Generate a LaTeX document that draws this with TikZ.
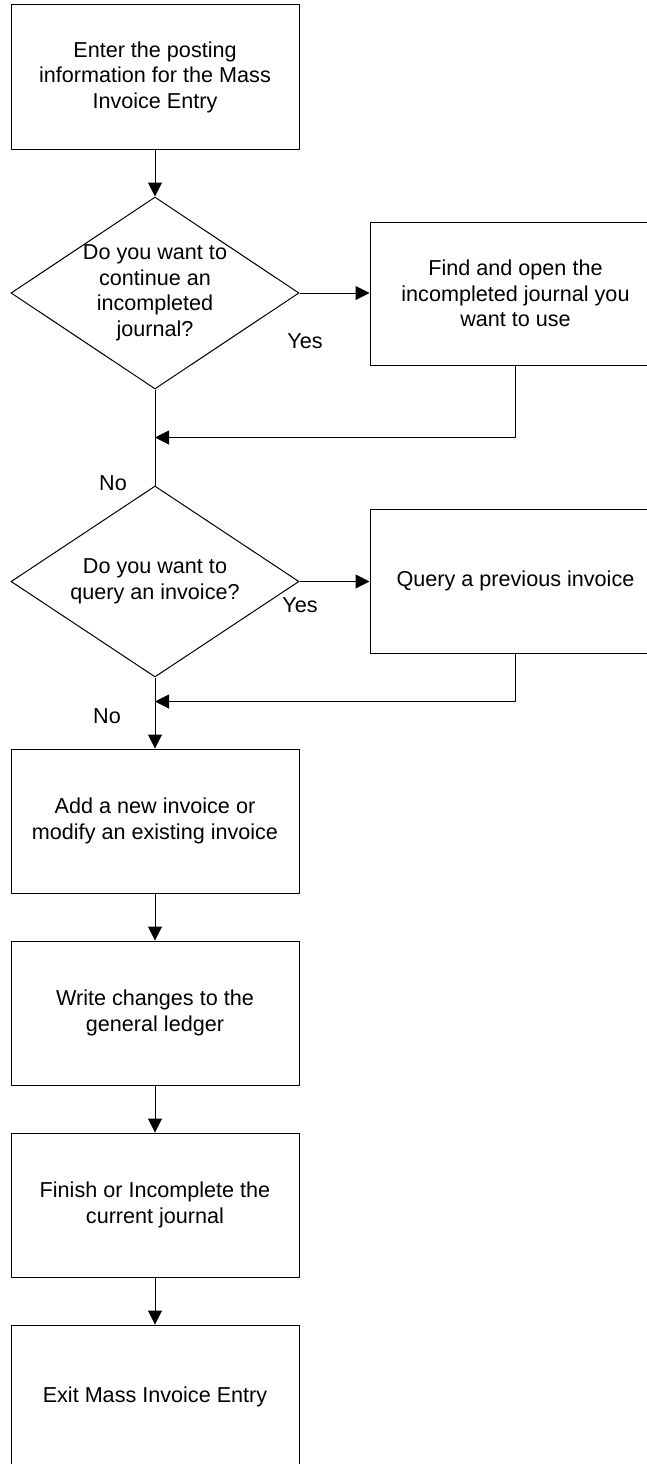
\documentclass[tikz,border=0pt]{standalone}
\usepackage{fontspec}
\setmainfont{Liberation Sans}
\usetikzlibrary{shapes.geometric,arrows.meta,calc}

\begin{document}
\begin{tikzpicture}[x=1pt,y=-1pt,
  every node/.style={font=\fontsize{21.6}{25.5}\selectfont},
  stepbox/.style={draw, line width=1pt, rectangle, minimum width=288pt,
    minimum height=144pt, inner sep=0pt, align=center},
  sidebox/.style={draw, line width=1pt, rectangle, minimum width=291pt,
    minimum height=144pt, inner sep=0pt, align=center},
  decision/.style={draw, line width=1pt, diamond, minimum width=288pt,
    minimum height=192pt, inner sep=0pt},
  dtext/.style={align=center, inner sep=0pt},
  lbl/.style={inner sep=0pt},
  flow/.style={line width=1pt, -{Triangle[length=14pt,width=14pt]}},
  plain/.style={line width=1pt}]

  % page frame, cutting off the shapes that run past the edges
  \clip (0,0) rectangle (647,1464);
  \fill[white] (0,0) rectangle (647,1464);

  % main column
  \node[stepbox] (b1) at (155,77) {Enter the posting\\information for the Mass\\Invoice Entry};
  \node[decision] (d1) at (155,293) {};
  \node[dtext] (t1) at (155,293) {Do you want to\\continue an\\incompleted\\journal?};
  \node[decision, minimum height=191pt] (d2) at (155,581.5) {};
  \node[dtext] (t2) at (155,581.5) {Do you want to\\query an invoice?};
  \node[stepbox] (b3) at (155,821) {Add a new invoice or\\modify an existing invoice};
  \node[stepbox] (b4) at (155,1013) {Write changes to the\\general ledger};
  \node[stepbox] (b5) at (155,1205) {Finish or Incomplete the\\current journal};
  \node[stepbox] (b6) at (155,1397) {Exit Mass Invoice Entry};

  % side branches
  \node[sidebox, minimum height=143pt] (r1) at (515.5,293.5) {Find and open the\\incompleted journal you\\want to use};
  \node[sidebox] (r2) at (515.5,581) {Query a previous invoice};

  % join points on the main column
  \coordinate (j1) at ($(d1.south)!0.5!(d2.north)$);
  \coordinate (j2) at (155,701.5);

  % branch labels
  \node[lbl] (y1) at (305,341) {Yes};
  \node[lbl] (n1) at (113,483) {No};
  \node[lbl] (y2) at (300,605) {Yes};
  \node[lbl] (n2) at (107,716) {No};

  % connectors
  \draw[flow] (b1.south) -- (d1.north);
  \draw[flow] (d1.east) -- (d1.east -| r1.west);
  \draw[plain] (d1.south) -- (d2.north);
  \draw[flow] (r1.south) |- (j1);
  \draw[flow] (d2.east) -- (d2.east -| r2.west);
  \draw[flow] (d2.south) -- (b3.north);
  \draw[flow] (r2.south) |- (j2);
  \draw[flow] (b3.south) -- (b4.north);
  \draw[flow] (b4.south) -- (b5.north);
  \draw[flow] (b5.south) -- (b6.north);
\end{tikzpicture}
\end{document}
